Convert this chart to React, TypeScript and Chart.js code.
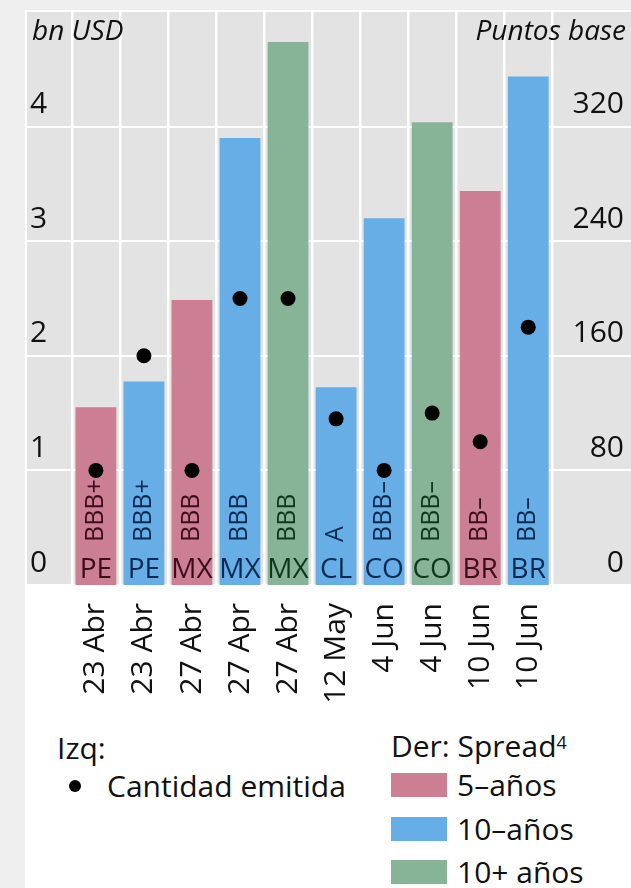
import React, { useEffect, useRef } from 'react';
import { Chart, registerables } from 'chart.js';

Chart.register(...registerables);

// ---- data ----
const dates = ['23 Abr', '23 Abr', '27 Abr', '27 Apr', '27 Abr', '12 May', '4 Jun', '4 Jun', '10 Jun', '10 Jun'];
const countries = ['PE', 'PE', 'MX', 'MX', 'MX', 'CL', 'CO', 'CO', 'BR', 'BR'];
const ratings = ['BBB+', 'BBB+', 'BBB', 'BBB', 'BBB', 'A', 'BBB–', 'BBB–', 'BB–', 'BB–'];
const maturities = ['5', '10', '5', '10', '10+', '10', '10', '10+', '5', '10'];
const spreadBp = [124, 142, 199, 312, 379, 138, 256, 323, 275, 355];
const amountBn = [1.0, 2.0, 1.0, 2.5, 2.5, 1.45, 1.0, 1.5, 1.25, 2.25];
const leftTicks = [0, 1, 2, 3, 4];
const rightTicks = [0, 80, 160, 240, 320];

const maturityKeys = ['5', '10', '10+'];
const maturityLabels = ['5–años', '10–años', '10+ años'];
const barColors: Record<string, string> = { '5': '#cc7e93', '10': '#67ade6', '10+': '#87b497' };
const textColors: Record<string, string> = { '5': '#3a0d1a', '10': '#0b2a52', '10+': '#0e381d' };

const FONT = '"Open Sans", "Noto Sans", sans-serif';

const annotate = {
  id: 'annotate',
  beforeDraw(chart: any) {
    const { ctx, chartArea } = chart;
    ctx.save();
    ctx.fillStyle = '#e3e3e3';
    ctx.fillRect(chartArea.left, chartArea.top, chartArea.right - chartArea.left, chartArea.bottom - chartArea.top);
    ctx.restore();
  },
  beforeDatasetDraw(chart: any, args: any) {
    if (args.index !== 0) return;
    const { ctx, chartArea, scales } = chart;
    ctx.save();
    dates.forEach((_, i) => {
      const x = scales.x.getPixelForValue(i);
      ctx.fillStyle = textColors[maturities[i]];
      ctx.font = `28px ${FONT}`;
      ctx.textAlign = 'center';
      ctx.textBaseline = 'alphabetic';
      ctx.fillText(countries[i], x, chartArea.bottom - 7);
      ctx.save();
      ctx.translate(x, chartArea.bottom - 43);
      ctx.rotate(-Math.PI / 2);
      ctx.font = `25px ${FONT}`;
      ctx.textAlign = 'left';
      ctx.textBaseline = 'middle';
      ctx.fillText(ratings[i], 0, 0);
      ctx.restore();
    });
    ctx.restore();
  },
  afterDraw(chart: any) {
    const { ctx, chartArea } = chart;
    ctx.save();
    ctx.fillStyle = '#111';
    ctx.font = `italic 28px ${FONT}`;
    ctx.textBaseline = 'middle';
    ctx.textAlign = 'left';
    ctx.fillText('bn USD', chartArea.left + 5, chartArea.top + 20);
    ctx.textAlign = 'right';
    ctx.fillText('Puntos base', chartArea.right - 5, chartArea.top + 20);
    ctx.restore();
  },
};

const noPad = (s: any) => {
  s.paddingTop = 0;
  s.paddingBottom = 0;
  s.paddingLeft = 0;
  s.paddingRight = 0;
};

export default function App() {
  const ref = useRef<HTMLCanvasElement>(null);

  useEffect(() => {
    document.body.style.margin = '0';
    const barDatasets = maturityKeys.map((m, k) => ({
      type: 'bar' as const,
      label: maturityLabels[k],
      data: spreadBp
        .map((v, i) => ({ x: i, y: v, m: maturities[i] }))
        .filter((p) => p.m === m)
        .map((p) => ({ x: p.x, y: p.y })),
      backgroundColor: barColors[m],
      yAxisID: 'y2',
      grouped: false,
      barPercentage: 0.85,
      categoryPercentage: 1,
      order: 2,
    }));
    const chart = new Chart(ref.current!, {
      type: 'bar',
      data: {
        datasets: [
          {
            type: 'scatter' as const,
            label: 'Cantidad emitida',
            data: amountBn.map((v, i) => ({ x: i, y: v })),
            backgroundColor: '#000',
            borderColor: '#000',
            pointRadius: 7.5,
            pointBorderWidth: 0,
            yAxisID: 'y',
            order: 1,
          },
          ...barDatasets,
        ] as any,
      },
      options: {
        responsive: false,
        animation: false,
        layout: { autoPadding: false, padding: { top: 2, left: 2, right: 0, bottom: 0 } },
        plugins: { legend: { display: false }, tooltip: { enabled: false } },
        scales: {
          x: {
            type: 'linear',
            offset: false,
            min: -1.434,
            max: 11.139,
            afterBuildTicks: (s: any) => {
              s.ticks = dates.map((_, i) => ({ value: i }));
            },
            afterFit: (s: any) => {
              s.height = 135;
              noPad(s);
            },
            grid: { offset: true, color: '#ffffff', lineWidth: 2.5, drawTicks: false },
            border: { display: false },
            ticks: {
              autoSkip: false,
              minRotation: 90,
              maxRotation: 90,
              padding: 18,
              color: '#111',
              font: { family: FONT, size: 30 },
              callback: (v: any) => dates[v as number],
            },
          },
          y: {
            position: 'left',
            min: 0,
            max: 5,
            afterBuildTicks: (s: any) => {
              s.ticks = leftTicks.map((v) => ({ value: v }));
            },
            afterFit: (s: any) => {
              s.width = 0;
              noPad(s);
            },
            grid: { color: '#ffffff', lineWidth: 2, drawTicks: false },
            border: { display: false },
            ticks: {
              mirror: true,
              padding: 3,
              labelOffset: -22,
              color: '#111',
              font: { family: FONT, size: 30 },
            },
          },
          y2: {
            position: 'right',
            min: 0,
            max: 400,
            afterBuildTicks: (s: any) => {
              s.ticks = rightTicks.map((v) => ({ value: v }));
            },
            afterFit: (s: any) => {
              s.width = 0;
              noPad(s);
            },
            grid: { display: false, drawTicks: false },
            border: { display: false },
            ticks: {
              mirror: true,
              padding: -7,
              labelOffset: -22,
              color: '#111',
              font: { family: FONT, size: 30 },
            },
          },
        },
      } as any,
      plugins: [annotate],
    });
    return () => chart.destroy();
  }, []);

  const txt: React.CSSProperties = {
    position: 'absolute',
    fontFamily: FONT,
    fontSize: 30,
    lineHeight: '42px',
    color: '#111',
    whiteSpace: 'nowrap',
  };

  return (
    <div style={{ position: 'relative', width: 631, height: 888, background: '#efefef', overflow: 'hidden' }}>
      <div style={{ position: 'absolute', left: 25, top: 10, width: 606, height: 878, background: '#ffffff' }} />
      <div style={{ position: 'absolute', left: 25, top: 10, width: 606, height: 710 }}>
        <canvas ref={ref} width={606} height={710} style={{ display: 'block' }} />
      </div>
      <div style={{ ...txt, left: 57, top: 727 }}>Izq:</div>
      <div style={{ position: 'absolute', left: 69, top: 780, width: 12, height: 12, borderRadius: 6, background: '#000' }} />
      <div style={{ ...txt, left: 107, top: 765 }}>Cantidad emitida</div>
      <div style={{ ...txt, left: 391, top: 725 }}>
        Der: Spread<sup style={{ fontSize: 18, verticalAlign: 'top', position: 'relative', top: -4 }}>4</sup>
      </div>
      {maturityKeys.map((m, k) => (
        <React.Fragment key={m}>
          <div
            style={{
              position: 'absolute',
              left: 391,
              top: 773 + k * 43.5,
              width: 56,
              height: 24,
              background: barColors[m],
            }}
          />
          <div style={{ ...txt, left: 457, top: 764 + k * 43.5 }}>{maturityLabels[k]}</div>
        </React.Fragment>
      ))}
    </div>
  );
}
